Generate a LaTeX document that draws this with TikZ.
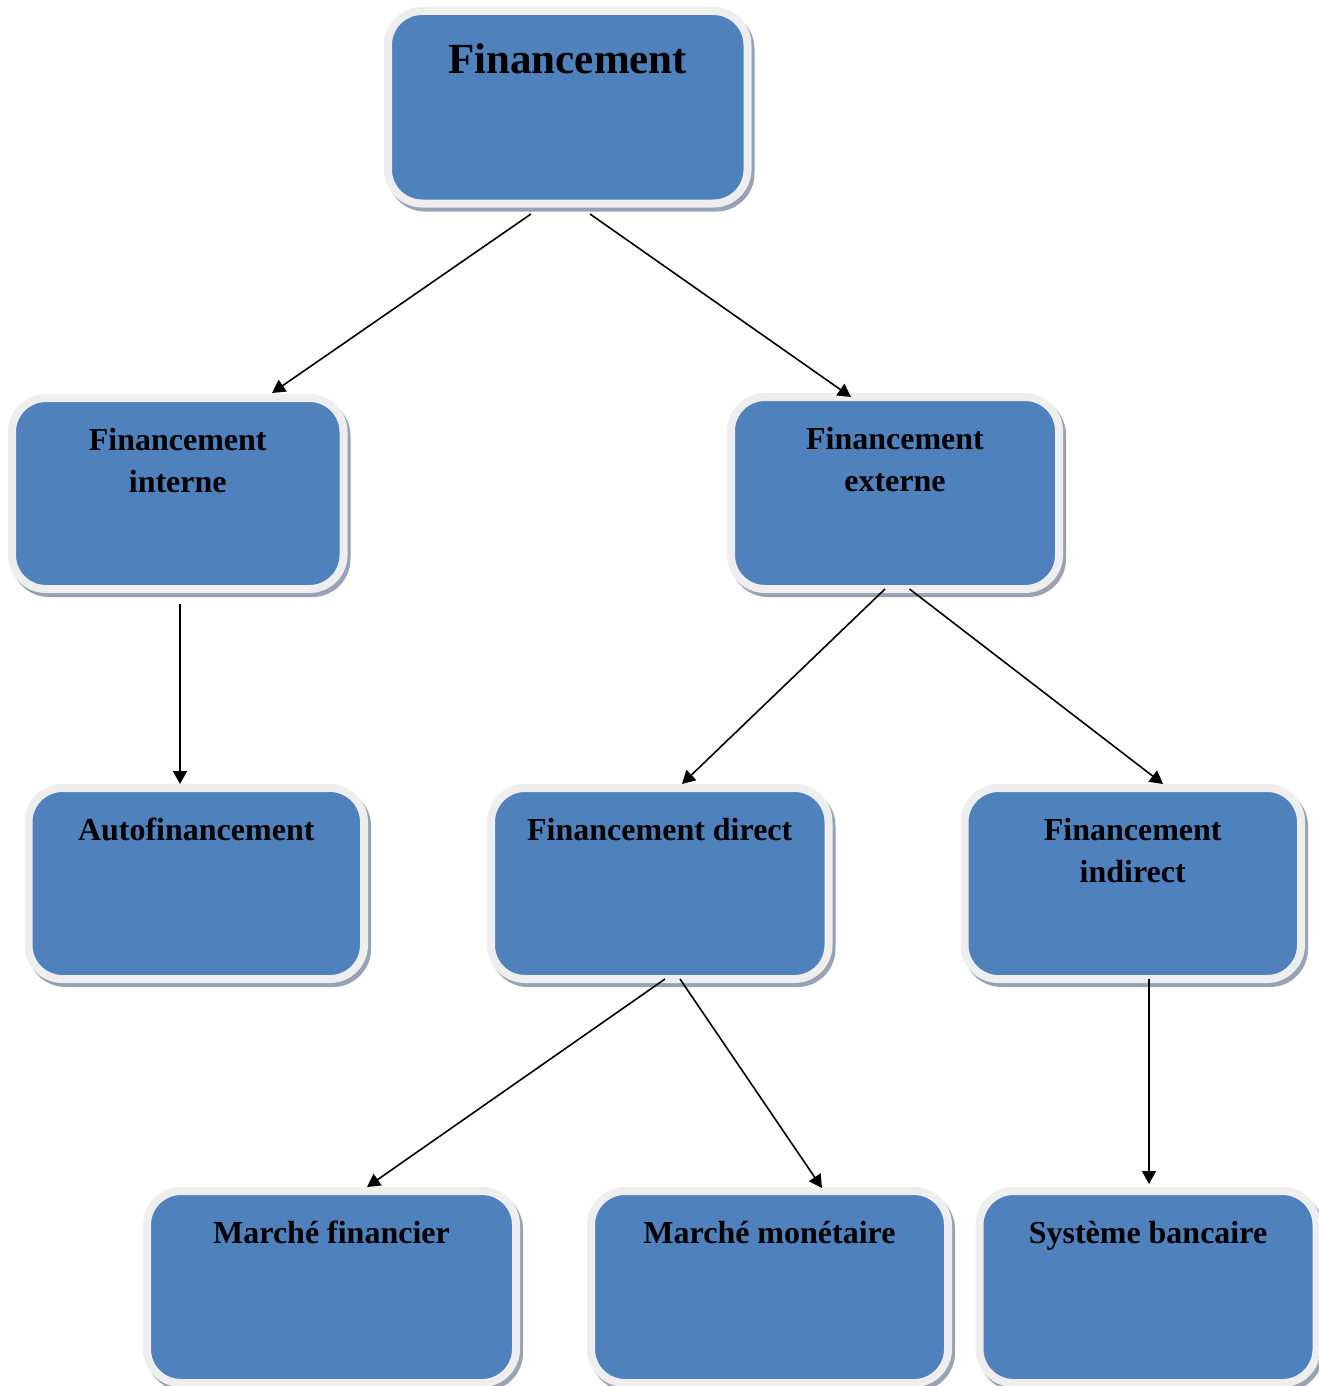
\documentclass[tikz,border=0pt]{standalone}
\usepackage{fontspec}
\setmainfont{Liberation Serif}
\usetikzlibrary{arrows.meta,calc}
\definecolor{boxblue}{HTML}{4F81BD}
\definecolor{rimgray}{HTML}{EEEEEE}
\definecolor{shadowgray}{HTML}{97A2B4}
\newcommand{\boxlbl}[4]{\parbox[c][#2pt][t]{#1pt}{\centering\rule{0pt}{#3pt}#4}}
\tikzset{
  fbox/.style={shape=rectangle, inner sep=0pt, outer sep=0pt,
    fill=boxblue, draw=rimgray, line width=8pt, rounded corners=34pt,
    font=\fontsize{32}{42}\selectfont\bfseries,
    preaction={draw=shadowgray, fill=shadowgray, line width=8pt,
      transform canvas={shift={(3pt,-4pt)}}}},
  titlebox/.style={fbox, font=\fontsize{43}{50}\selectfont\bfseries},
  arr/.style={draw=black, line width=1.6pt, -{Triangle[length=13pt,width=14pt]}}
}
\begin{document}
\begin{tikzpicture}[x=1pt,y=-1pt]
\useasboundingbox (0,0) rectangle (1319,1386);
\node[titlebox] (top) at (567.75,107.25) {\boxlbl{359.5}{192.5}{63}{Financement}};
\node[fbox] (interne) at (177.75,493.5) {\boxlbl{331.5}{191}{52}{Financement\\interne}};
\node[fbox] (externe) at (895,493) {\boxlbl{328}{192}{52}{Financement\\externe}};
\node[fbox] (auto) at (196.25,883.5) {\boxlbl{335.5}{191}{52}{Autofinancement}};
\node[fbox] (direct) at (659.75,883.5) {\boxlbl{337.5}{191}{52}{Financement direct}};
\node[fbox] (indirect) at (1132.75,883.5) {\boxlbl{336.5}{191}{52}{Financement\\indirect}};
\node[fbox] (financier) at (331.5,1287) {\boxlbl{369}{192}{52}{Marché financier}};
\node[fbox] (monetaire) at (769.5,1287) {\boxlbl{357}{192}{52}{Marché monétaire}};
\node[fbox] (bancaire) at (1148,1287) {\boxlbl{337}{192}{52}{Système bancaire}};

\draw[arr] ($(top.south)+(-36.75,10.5)$) -- ($(interne.north)+(94.25,-5)$);
\draw[arr] ($(top.south)+(22.25,10.5)$) -- ($(externe.north)+(-44,0)$);
\draw[arr] ($(interne.south)+(2.25,15)$) -- ($(auto.north)+(-16.25,-4)$);
\draw[arr] ($(externe.south)+(-10,0)$) -- ($(direct.north)+(22.25,-4)$);
\draw[arr] ($(externe.south)+(14.5,0)$) -- ($(indirect.north)+(30.25,-4)$);
\draw[arr] ($(direct.south)+(5.25,0)$) -- ($(financier.north)+(35.5,-4)$);
\draw[arr] ($(direct.south)+(20.25,0)$) -- ($(monetaire.north)+(52.5,-3)$);
\draw[arr] ($(indirect.south)+(16.25,0)$) -- ($(bancaire.north)+(1,-7)$);
\end{tikzpicture}
\end{document}
